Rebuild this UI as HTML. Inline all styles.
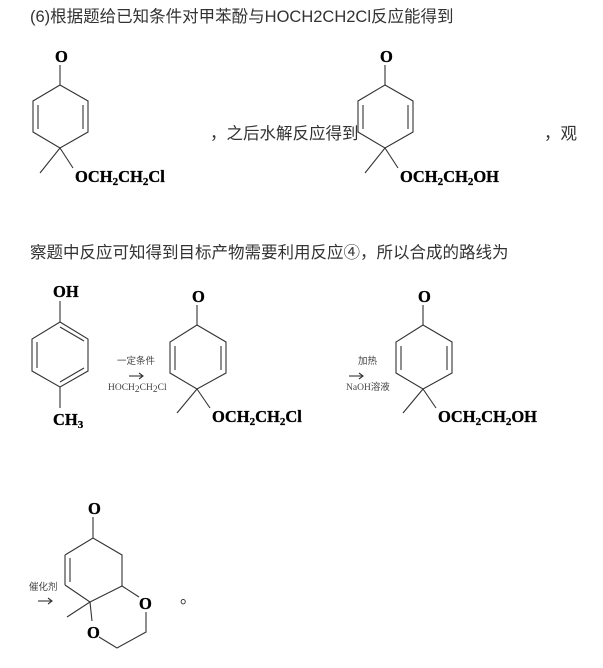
<!DOCTYPE html>
<html><head><meta charset="utf-8"><style>
body{margin:0;background:#fff;width:603px;height:668px;overflow:hidden}
svg{position:absolute;left:0;top:0}
.t{font-family:"Liberation Sans","Noto Sans CJK SC",sans-serif;font-size:16.5px;fill:#333}
.c{font-family:"Liberation Serif",serif;font-weight:bold;font-size:16.5px;fill:#000;stroke:#000;stroke-width:0.3}
.s{font-family:"Liberation Serif",serif;font-weight:bold;font-size:11px;fill:#000}
.sm{font-family:"Liberation Serif","Noto Sans CJK SC",sans-serif;font-size:9.5px;fill:#444}
line,polyline{stroke:#333;stroke-width:1.1;fill:none}
</style></head><body>
<svg width="603" height="668" viewBox="0 0 603 668">
<text class="t" x="30" y="22">(6)根据题给已知条件对甲苯酚与HOCH2CH2Cl反应能得到</text>
<text class="t" x="210" y="139">，之后水解反应得到</text>
<text class="t" x="544" y="139">，观</text>
<text class="t" x="30" y="258">察题中反应可知得到目标产物需要利用反应④，所以合成的路线为</text>

<g>
<text class="c" x="55" y="62">O</text>
<line x1="60" y1="65" x2="60" y2="85"/>
<polyline points="60,85 33,101 33,132 60,148 88,132 88,101 60,85"/>
<line x1="38" y1="105" x2="38" y2="129"/><line x1="83" y1="105" x2="83" y2="129"/>
<line x1="60" y1="148" x2="40" y2="173"/><line x1="60" y1="148" x2="73" y2="168"/>
<text class="c" x="75" y="182">OCH<tspan class="s" dy="3">2</tspan><tspan dy="-3">CH</tspan><tspan class="s" dy="3">2</tspan><tspan dy="-3">Cl</tspan></text>
</g>
<g transform="translate(325,0)">
<text class="c" x="55" y="62">O</text>
<line x1="60" y1="65" x2="60" y2="85"/>
<polyline points="60,85 33,101 33,132 60,148 88,132 88,101 60,85"/>
<line x1="38" y1="105" x2="38" y2="129"/><line x1="83" y1="105" x2="83" y2="129"/>
<line x1="60" y1="148" x2="40" y2="173"/><line x1="60" y1="148" x2="73" y2="168"/>
<text class="c" x="75" y="182">OCH<tspan class="s" dy="3">2</tspan><tspan dy="-3">CH</tspan><tspan class="s" dy="3">2</tspan><tspan dy="-3">OH</tspan></text>
</g>
<g>
<text class="c" x="53" y="297">OH</text>
<line x1="60" y1="301" x2="60" y2="322"/>
<polyline points="60,322 32,339 32,371 60,387 88,371 88,339 60,322"/>
<line x1="37" y1="342" x2="37" y2="368"/><line x1="60" y1="327" x2="84" y2="341"/><line x1="60" y1="382" x2="84" y2="368"/>
<line x1="60" y1="387" x2="60" y2="408"/>
<text class="c" x="53" y="425">CH<tspan class="s" dy="3">3</tspan></text>
</g>
<text class="sm" x="117" y="364">一定条件</text>
<line x1="129" y1="376" x2="143" y2="376"/><polyline points="139,373 143,376 139,379"/>
<text class="sm" x="108" y="390">HOCH<tspan dy="2">2</tspan><tspan dy="-2">CH</tspan><tspan dy="2">2</tspan><tspan dy="-2">Cl</tspan></text>
<g transform="translate(137,240)">
<text class="c" x="55" y="62">O</text>
<line x1="60" y1="65" x2="60" y2="85"/>
<polyline points="60,85 33,102 33,133 60,149 89,133 89,102 60,85"/>
<line x1="38" y1="106" x2="38" y2="130"/><line x1="84" y1="106" x2="84" y2="130"/>
<line x1="60" y1="149" x2="40" y2="173"/><line x1="60" y1="149" x2="73" y2="168"/>
<text class="c" x="75" y="182">OCH<tspan class="s" dy="3">2</tspan><tspan dy="-3">CH</tspan><tspan class="s" dy="3">2</tspan><tspan dy="-3">Cl</tspan></text>
</g>
<text class="sm" x="358" y="364">加热</text>
<line x1="349" y1="376" x2="363" y2="376"/><polyline points="359,373 363,376 359,379"/>
<text class="sm" x="346" y="390">NaOH溶液</text>
<g transform="translate(363,240)">
<text class="c" x="55" y="62">O</text>
<line x1="60" y1="65" x2="60" y2="85"/>
<polyline points="60,85 33,102 33,133 60,149 89,133 89,102 60,85"/>
<line x1="38" y1="106" x2="38" y2="130"/><line x1="84" y1="106" x2="84" y2="130"/>
<line x1="60" y1="149" x2="40" y2="173"/><line x1="60" y1="149" x2="73" y2="168"/>
<text class="c" x="75" y="182">OCH<tspan class="s" dy="3">2</tspan><tspan dy="-3">CH</tspan><tspan class="s" dy="3">2</tspan><tspan dy="-3">OH</tspan></text>
</g>
<g>
<text class="c" x="88" y="514">O</text>
<line x1="93" y1="517" x2="93" y2="538"/>
<polyline points="65,555 93,538 122,555 122,586"/>
<line x1="65" y1="555" x2="65" y2="585"/><line x1="70" y1="558" x2="70" y2="582"/>
<polyline points="65,585 90,602 67,617"/>
<line x1="122" y1="586" x2="139" y2="597"/>
<line x1="90" y1="602" x2="122" y2="586"/>
<line x1="90" y1="602" x2="92" y2="621"/>
<polyline points="99,637 117,648 146,632 146,612"/>
<text class="c" x="139" y="609">O</text>
<text class="c" x="87" y="638">O</text>
</g>
<text class="sm" x="29" y="590">催化剂</text>
<line x1="38" y1="601" x2="52" y2="601"/><polyline points="48,598 52,601 48,604"/>
<text class="t" x="180" y="603">。</text>
</svg>
</body></html>
